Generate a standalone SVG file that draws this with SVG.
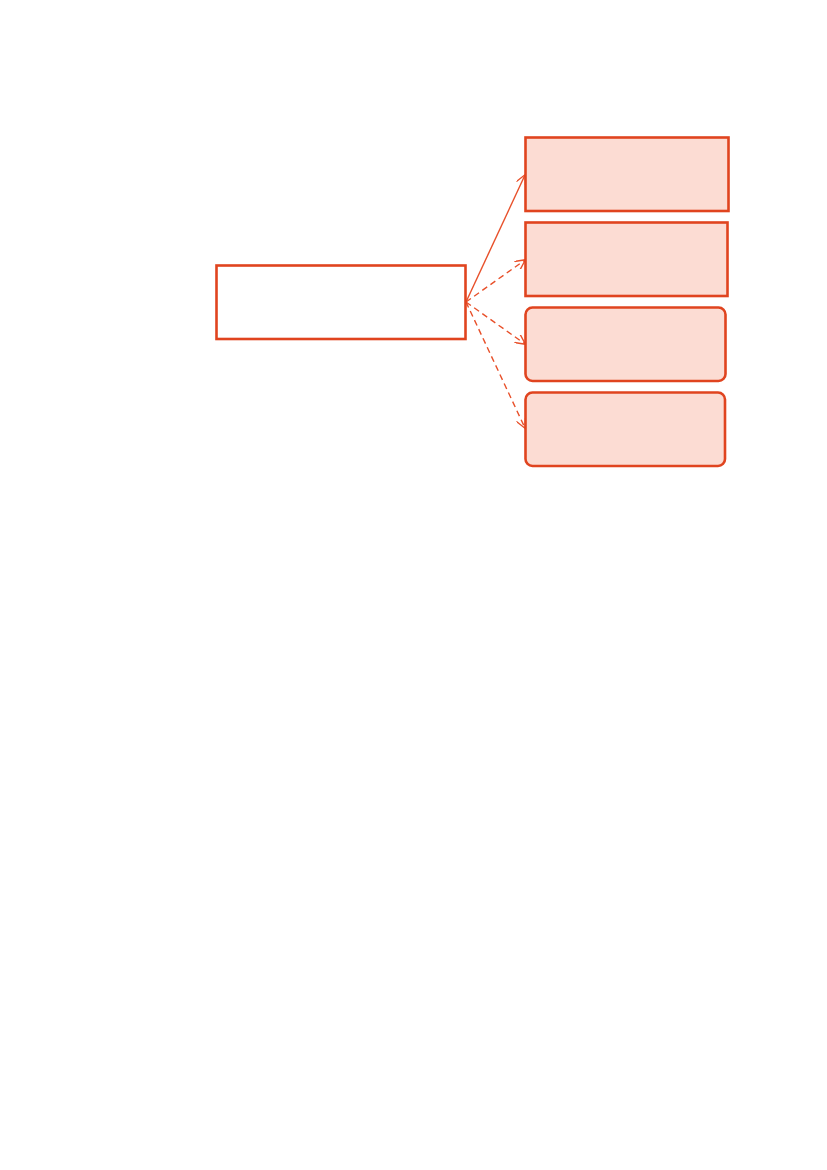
<svg xmlns="http://www.w3.org/2000/svg" width="827" height="1170" viewBox="0 0 827 1170">
<style>
.box{stroke:#E0441F;stroke-width:2.6;}
.src{fill:#FFFFFF;}
.tgt{fill:#FCDCD3;}
.edge{fill:none;stroke:#E8502A;stroke-width:1.4;}
.dash{stroke-dasharray:6 4;}
</style>
<defs>
<marker id="arr" viewBox="0 0 10 10" refX="9.5" refY="5" markerWidth="10" markerHeight="10" markerUnits="userSpaceOnUse" orient="auto">
<path d="M0,0 L10,5 L0,10" fill="none" stroke="#E8502A" stroke-width="1.4"/>
</marker>
</defs>
<rect width="827" height="1170" fill="#FFFFFF"/>
<g id="connectors">
<line class="edge" x1="466" y1="302" x2="525" y2="175" marker-end="url(#arr)"/>
<line class="edge dash" x1="466" y1="302" x2="525" y2="260" marker-end="url(#arr)"/>
<line class="edge dash" x1="466" y1="302" x2="525" y2="344" marker-end="url(#arr)"/>
<line class="edge dash" x1="466" y1="302" x2="525" y2="428" marker-end="url(#arr)"/>
</g>
<g id="source"><rect class="box src" x="216.5" y="265.5" width="249" height="73.5"/></g>
<g id="target1"><rect class="box tgt" x="525.5" y="137.5" width="203" height="73.5"/></g>
<g id="target2"><rect class="box tgt" x="525.5" y="222.5" width="202" height="73.5"/></g>
<g id="target3"><rect class="box tgt" x="525.5" y="307.5" width="200" height="73.5" rx="7"/></g>
<g id="target4"><rect class="box tgt" x="525.5" y="392.5" width="199.5" height="73.5" rx="7"/></g>
</svg>
